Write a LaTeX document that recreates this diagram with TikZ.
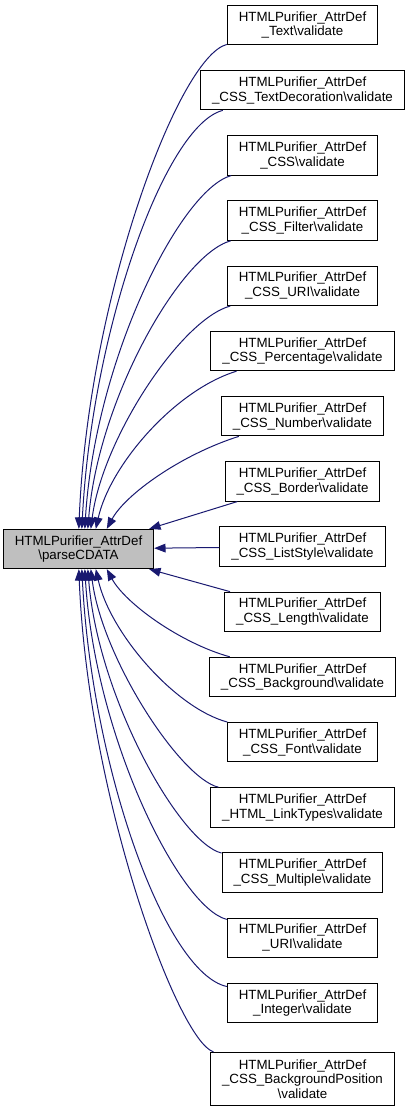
\documentclass[tikz,border=0pt]{standalone}
\usepackage{fontspec}
\setmainfont{Liberation Sans}
\usepackage{tikz}
\usetikzlibrary{arrows.meta,positioning,calc}
\definecolor{EdgeBlue}{RGB}{25,25,112}
\definecolor{MainGray}{RGB}{191,191,191}
\tikzset{
  fnbox/.style={draw=black,fill=white,line width=0.75pt,minimum height=29.5pt,
    inner xsep=8.6pt,inner ysep=4.4pt,align=center,
    font=\fontsize{10}{11}\selectfont},
  mainbox/.style={fnbox,fill=MainGray},
  callarrow/.style={-{Triangle[length=8.5pt,width=6.5pt]},line width=0.75pt,EdgeBlue}
}

\begin{document}
\begin{tikzpicture}[x=0.75pt,y=0.75pt,node distance=18.65pt]
  \useasboundingbox (0,0) rectangle (409,-1113);
  \node[mainbox] (parse) at (78.5,-549) {HTMLPurifier\_AttrDef\\\textbackslash parseCDATA};
  \node[fnbox] (text) at (302.5,-25) {HTMLPurifier\_AttrDef\\\_Text\textbackslash validate};
  \node[fnbox,below=of text] (textdeco) {HTMLPurifier\_AttrDef\\\_CSS\_TextDecoration\textbackslash validate};
  \node[fnbox,below=of textdeco] (css) {HTMLPurifier\_AttrDef\\\_CSS\textbackslash validate};
  \node[fnbox,below=of css] (filter) {HTMLPurifier\_AttrDef\\\_CSS\_Filter\textbackslash validate};
  \node[fnbox,below=of filter] (cssuri) {HTMLPurifier\_AttrDef\\\_CSS\_URI\textbackslash validate};
  \node[fnbox,below=of cssuri] (percent) {HTMLPurifier\_AttrDef\\\_CSS\_Percentage\textbackslash validate};
  \node[fnbox,below=of percent] (number) {HTMLPurifier\_AttrDef\\\_CSS\_Number\textbackslash validate};
  \node[fnbox,below=of number] (border) {HTMLPurifier\_AttrDef\\\_CSS\_Border\textbackslash validate};
  \node[fnbox,below=of border] (liststyle) {HTMLPurifier\_AttrDef\\\_CSS\_ListStyle\textbackslash validate};
  \node[fnbox,below=of liststyle] (length) {HTMLPurifier\_AttrDef\\\_CSS\_Length\textbackslash validate};
  \node[fnbox,below=of length] (background) {HTMLPurifier\_AttrDef\\\_CSS\_Background\textbackslash validate};
  \node[fnbox,below=of background] (font) {HTMLPurifier\_AttrDef\\\_CSS\_Font\textbackslash validate};
  \node[fnbox,below=of font] (linktypes) {HTMLPurifier\_AttrDef\\\_HTML\_LinkTypes\textbackslash validate};
  \node[fnbox,below=of linktypes] (multiple) {HTMLPurifier\_AttrDef\\\_CSS\_Multiple\textbackslash validate};
  \node[fnbox,below=of multiple] (uri) {HTMLPurifier\_AttrDef\\\_URI\textbackslash validate};
  \node[fnbox,below=of uri] (integer) {HTMLPurifier\_AttrDef\\\_Integer\textbackslash validate};
  \node[fnbox,minimum height=40pt,below=21.5pt of integer] (bgpos) {HTMLPurifier\_AttrDef\\\_CSS\_BackgroundPosition\\\textbackslash validate};
  % callers above
  \draw[callarrow] (text) .. controls (178,-57) and (88,-300) .. ($(parse.north west)+(76,0)$);
  \draw[callarrow] (textdeco) .. controls (165,-125) and (92,-330) .. ($(parse.north west)+(79,0)$);
  \draw[callarrow] (css) .. controls (180,-190) and (95,-360) .. ($(parse.north west)+(82,0)$);
  \draw[callarrow] (filter) .. controls (180,-255) and (98,-400) .. ($(parse.north west)+(85,0)$);
  \draw[callarrow] (cssuri) .. controls (180,-320) and (102,-440) .. ($(parse.north west)+(88,0)$);
  \draw[callarrow] (percent) .. controls (175,-390) and (110,-465) .. ($(parse.north west)+(93,0)$);
  \draw[callarrow] (number) .. controls (180,-455) and (125,-495) .. ($(parse.north west)+(104,0)$);
  \draw[callarrow] (border) -- ($(parse.north east)+(-5,0)$);
  \draw[callarrow] (liststyle) -- (parse);
  \draw[callarrow] (length) -- ($(parse.south east)+(-5,0)$);
  % callers below
  \draw[callarrow] (background) .. controls (180,-643) and (125,-603) .. ($(parse.south west)+(104,0)$);
  \draw[callarrow] (font) .. controls (175,-708) and (110,-633) .. ($(parse.south west)+(93,0)$);
  \draw[callarrow] (linktypes) .. controls (180,-778) and (102,-658) .. ($(parse.south west)+(88,0)$);
  \draw[callarrow] (multiple) .. controls (180,-843) and (98,-698) .. ($(parse.south west)+(85,0)$);
  \draw[callarrow] (uri) .. controls (180,-908) and (95,-738) .. ($(parse.south west)+(82,0)$);
  \draw[callarrow] (integer) .. controls (165,-973) and (92,-768) .. ($(parse.south west)+(79,0)$);
  \draw[callarrow] (bgpos) .. controls (178,-1041) and (88,-798) .. ($(parse.south west)+(76,0)$);
\end{tikzpicture}
\end{document}
